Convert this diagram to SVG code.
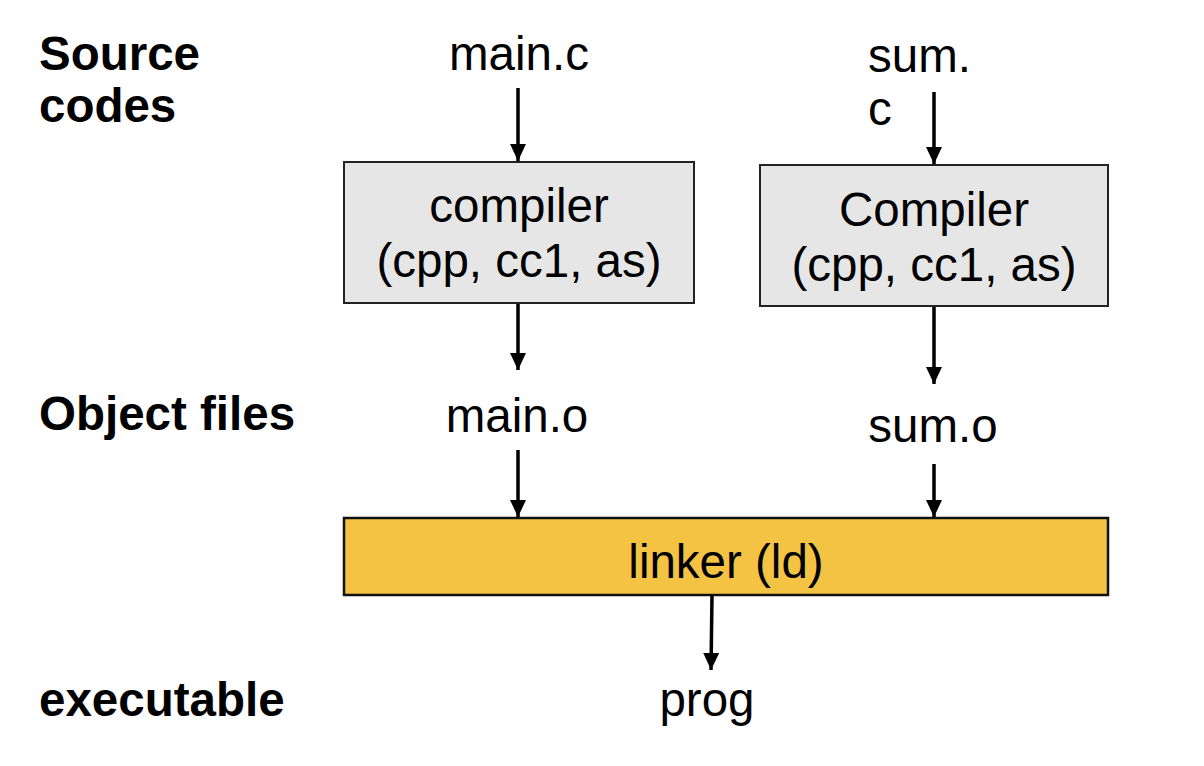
<svg xmlns="http://www.w3.org/2000/svg" width="1204" height="766" viewBox="0 0 1204 766">
<defs>
<marker id="ah" markerUnits="userSpaceOnUse" markerWidth="18" markerHeight="16" refX="17" refY="8" orient="auto">
<path d="M0,0 L17,8 L0,16 Z" fill="#000"/>
</marker>
<style>
.t{font-family:"Liberation Sans",Arial,sans-serif;font-size:47.5px;fill:#000}
.b{font-family:"Liberation Sans",Arial,sans-serif;font-size:47.5px;font-weight:bold;fill:#000}
.m{text-anchor:middle}
.box{fill:#e6e6e6;stroke:#222;stroke-width:2}
.lk{fill:#f4c343;stroke:#111;stroke-width:2.5}
.c{stroke:#000;stroke-width:3.5;fill:none;marker-end:url(#ah)}
</style>
</defs>
<rect width="1204" height="766" fill="#fff"/>
<g id="labels">
<text class="b" x="39" y="70">Source</text>
<text class="b" x="39" y="122">codes</text>
<text class="b" x="39" y="430">Object files</text>
<text class="b" x="39" y="716">executable</text>
</g>
<g id="main_c"><text class="t m" x="519" y="70">main.c</text></g>
<g id="sum_c"><text class="t" x="868" y="72">sum.</text><text class="t" x="868" y="125">c</text></g>
<g id="compiler1">
<rect class="box" x="344" y="162" width="350" height="141"/>
<text class="t m" x="519" y="222">compiler</text>
<text class="t m" x="519" y="277">(cpp, cc1, as)</text>
</g>
<g id="compiler2">
<rect class="box" x="760" y="165" width="348" height="141"/>
<text class="t m" x="934" y="226">Compiler</text>
<text class="t m" x="934" y="281">(cpp, cc1, as)</text>
</g>
<g id="main_o"><text class="t m" x="517" y="432">main.o</text></g>
<g id="sum_o"><text class="t m" x="933" y="442">sum.o</text></g>
<g id="linker">
<rect class="lk" x="344" y="518" width="764" height="77"/>
<text class="t m" x="726" y="578">linker (ld)</text>
</g>
<g id="prog"><text class="t m" x="707" y="716">prog</text></g>
<g id="connectors">
<line class="c" x1="518" y1="88" x2="518" y2="161"/>
<line class="c" x1="518" y1="304" x2="518" y2="370"/>
<line class="c" x1="518" y1="450" x2="518" y2="517"/>
<line class="c" x1="934" y1="92" x2="934" y2="164"/>
<line class="c" x1="934" y1="307" x2="934" y2="384"/>
<line class="c" x1="934" y1="464" x2="934" y2="517"/>
<line class="c" x1="712" y1="596" x2="711" y2="670"/>
</g>
</svg>
